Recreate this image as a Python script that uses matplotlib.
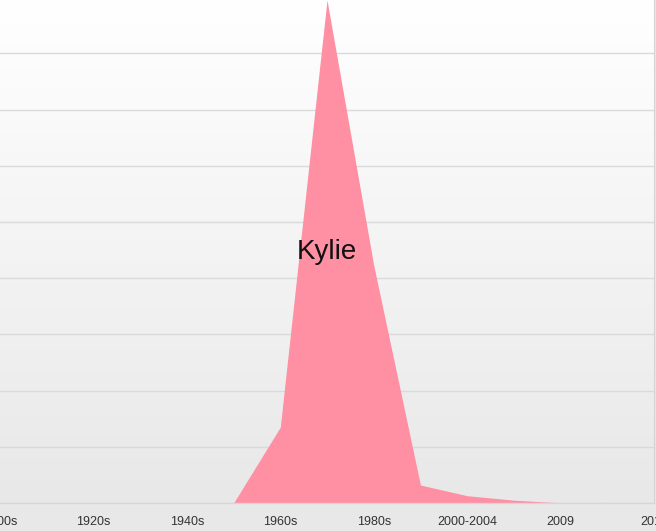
import numpy as np
import matplotlib.pyplot as plt

# decades / periods along the x axis
categories = ['1900s', '1910s', '1920s', '1930s', '1940s', '1950s', '1960s', '1970s',
              '1980s', '1990s', '2000-2004', '2005-2008', '2009', '2010', '2011']
# popularity of the name "Kylie" (in grid units)
kylie = [0, 0, 0, 0, 0, 0, 1.35, 8.95, 4.23, 0.32, 0.13, 0.05, 0.003, 0, 0]
label = 'Kylie'

W, H = 656, 531
fig = plt.figure(figsize=(W / 100, H / 100), dpi=100, facecolor='#e8e8e8')
ax = fig.add_axes([0, 28 / H, 654 / W, 503 / H])

x = np.arange(len(categories))
ymax = 503 / 56.2

# background gradient (white at top -> light grey at bottom)
grad = np.linspace(0, 1, 256).reshape(-1, 1)
ax.imshow(grad, extent=[0, len(categories) - 1, 0, ymax], aspect='auto',
          cmap=plt.matplotlib.colors.LinearSegmentedColormap.from_list('bg', ['#e8e8e8', '#ffffff']),
          origin='lower', zorder=-1)

ax.fill_between(x, 0, kylie, color='#ff8fa3', linewidth=0, zorder=2)
ax.text(7, 4.47, label, ha='center', va='center', fontsize=20,
        family='Liberation Sans', color='#111111', zorder=3)

ax.set_xlim(0, len(categories) - 1)
ax.set_ylim(0, ymax)
ax.set_yticks(np.arange(0, 9))
ax.set_axisbelow(True)
ax.yaxis.grid(True, color='#dadada', linewidth=1)
ax.axhline(0, color='#d6d6d6', linewidth=1, clip_on=False, zorder=3)
ax.tick_params(axis='y', left=False, labelleft=False)

ax.set_xticks(x[::2])
ax.set_xticklabels(categories[::2], fontsize=9, family='Liberation Sans', color='#333333')
ax.tick_params(axis='x', length=0, pad=9.5)

for s in ['top', 'left', 'bottom']:
    ax.spines[s].set_visible(False)
ax.spines['right'].set_color('#d4d4d4')

fig.savefig('out.png', dpi=100, facecolor=fig.get_facecolor())
